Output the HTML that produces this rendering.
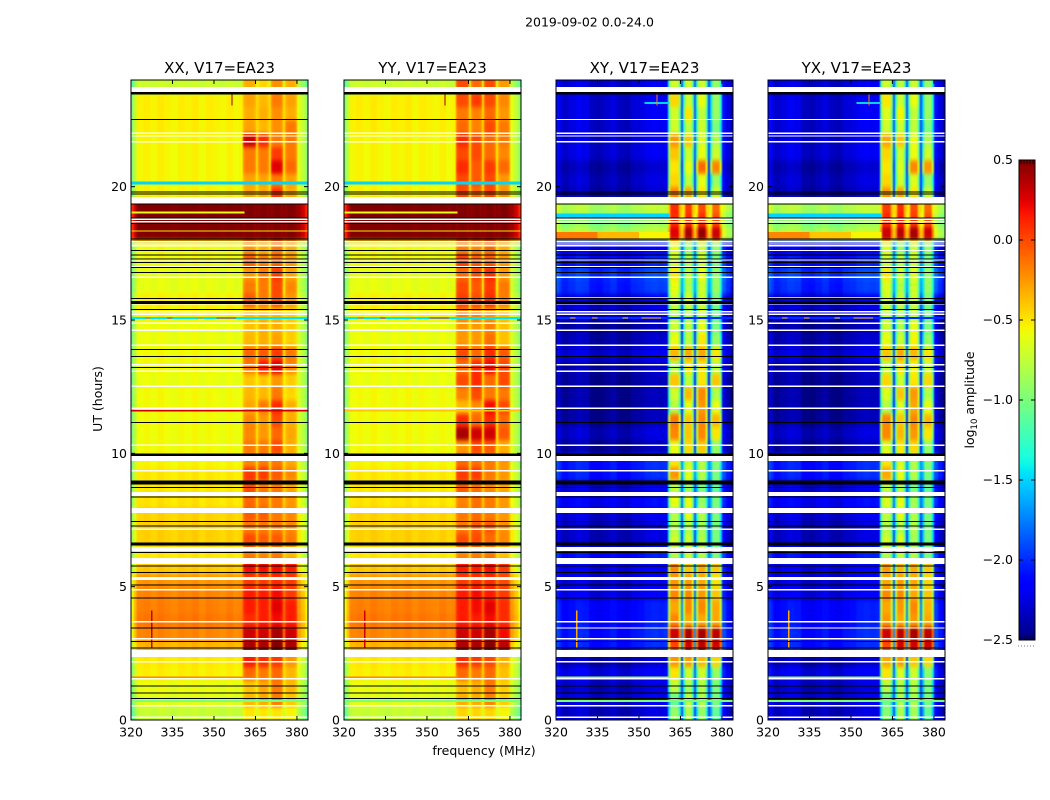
<!DOCTYPE html>
<html>
<head>
<meta charset="utf-8">
<title>2019-09-02 spectrogram</title>
<style>
html,body{margin:0;padding:0;background:#fff;}
svg{display:block;}
text{font-family:"DejaVu Sans","Liberation Sans",sans-serif;fill:#000;}
</style>
</head>
<body>
<svg id="figure" width="1050" height="800" viewBox="0 0 1050 800" xmlns="http://www.w3.org/2000/svg">
  <defs>
    <filter id="soften" x="-5%" y="-5%" width="110%" height="110%" color-interpolation-filters="sRGB">
      <feGaussianBlur stdDeviation="0.7 2.2"/>
    </filter>
  </defs>
  <text x="589.5" y="26.5" font-size="12.5" text-anchor="middle">2019-09-02 0.0-24.0</text>
  <text x="484" y="755" font-size="12.5" text-anchor="middle">frequency (MHz)</text>
  <text x="0" y="0" font-size="12.5" text-anchor="middle" transform="translate(102,399) rotate(-90)">UT (hours)</text>
  <text x="0" y="0" font-size="12.5" text-anchor="middle" transform="translate(974,400) rotate(-90)">log<tspan font-size="8.5" dy="3">10</tspan><tspan dy="-3"> amplitude</tspan></text>
</svg>
<script>
// Categories
const panelTitles = ['XX, V17=EA23', 'YY, V17=EA23', 'XY, V17=EA23', 'YX, V17=EA23'];
const freqTicks = [320, 335, 350, 365, 380];
const hourTicks = [0, 5, 10, 15, 20];
const colorbarTicks = [0.5, 0, -0.5, -1, -1.5, -2, -2.5];
const colorbarLabels = ['0.5', '0.0', '\u22120.5', '\u22121.0', '\u22121.5', '\u22122.0', '\u22122.5'];

// Frequency bin edges in MHz
const freqEdges = [320,321,322,324.5,327,329.5,332,334.5,337,339.5,342,344.5,347,349.5,352,354.5,357,359,360.5,361.3,364.4,365.2,365.9,366.7,369.1,369.9,370.6,371.4,374.1,374.9,375.7,376.5,379.2,380,381.5,383,384];
// Which value in a row each frequency bin reads: 0 continuum, 1-4 subbands, 5 subband gap
const binSource = [0,0,0,0,0,0,0,0,0,0,0,0,0,0,0,0,0,0,1,1,1,5,2,2,2,5,3,3,3,5,4,4,4,0,0,0];
// Offsets in log10 amplitude per frequency bin
const binOffsetParallel = [-0.4,-0.18,0,0.02,-0.01,0.03,0,-0.02,0.02,0,0.03,-0.02,0.02,0,-0.02,0.02,-0.02,0,-0.05,0,-0.05,0.06,-0.05,0,-0.05,0.06,-0.05,0,-0.05,0.06,-0.05,0,-0.05,-0.08,-0.2,-0.38];
const binOffsetCross = [0.2,0.1,0,0.05,0.1,0.08,-0.03,-0.05,0,0.05,-0.03,-0.05,0.03,0.05,0.1,0.12,0.1,0.12,-0.55,0,-0.45,0.4,-0.55,0,-0.45,0.4,-0.55,0,-0.45,0.4,-0.55,0,-0.45,0.2,0.05,-0.05];

// Half-hour rows from 0 UT upward: [continuum, subband1, subband2, subband3, subband4]
const valuesXX = [
[-0.74,-0.5,-0.5,-0.5,-0.55],[-0.64,-0.35,-0.3,-0.15,-0.4],[-0.6,-0.4,-0.3,-0.15,-0.35],[-0.54,-0.1,-0.15,-0.1,-0.35],
[-0.52,0.15,0.1,0.05,-0.25],[-0.35,0.4,0.4,0.5,0.4],[-0.2,0.3,0.3,0.4,0.3],[-0.15,0.1,0.15,0.2,0.15],
[-0.18,0.15,0.15,0.25,0.15],[-0.2,0.15,0.15,0.2,0.05],[-0.25,0.05,0.05,0.1,0.05],[-0.42,0.2,0.2,0.2,0.15],
[-0.52,-0.15,-0.2,-0.15,-0.35],[-0.44,0,-0.05,-0.05,-0.15],[-0.44,-0.15,-0.15,-0.15,-0.2],[-0.45,-0.05,-0.05,-0.15,-0.2],
[-0.5,-0.1,-0.15,-0.15,-0.25],[-0.52,0,-0.15,-0.15,-0.3],[-0.52,0.05,0.05,-0.05,-0.2],[-0.56,-0.2,-0.15,-0.15,-0.3],
[-0.58,-0.15,-0.15,0,-0.32],[-0.58,-0.2,-0.25,-0.1,-0.3],[-0.58,-0.2,-0.25,0,-0.32],[-0.58,-0.3,-0.15,0.1,-0.32],
[-0.58,-0.35,-0.35,-0.15,-0.45],[-0.6,-0.4,-0.4,-0.25,-0.42],[-0.58,-0.15,0.15,0.25,-0.2],[-0.58,-0.1,-0.05,0.05,-0.15],
[-0.6,-0.35,-0.32,-0.28,-0.42],[-0.6,-0.38,-0.32,-0.32,-0.42],[-0.55,-0.38,-0.35,-0.35,-0.42],[-0.54,-0.05,-0.15,0,-0.25],
[-0.62,-0.15,-0.15,0,-0.2],[-0.62,-0.25,-0.15,0.05,-0.28],[-0.58,-0.05,-0.15,-0.1,-0.25],[-0.58,-0.25,-0.32,-0.15,-0.32],
[0.5,0.5,0.5,0.5,0.5],[0.5,0.5,0.5,0.5,0.5],[0.5,0.5,0.5,0.5,0.5],[-0.56,-0.32,-0.32,0.05,-0.32],
[-0.56,-0.28,-0.28,-0.15,-0.28],[-0.56,-0.15,-0.15,0.25,-0.1],[-0.56,-0.15,-0.15,0.05,-0.15],[-0.56,0.3,0.1,-0.15,-0.15],
[-0.54,-0.28,-0.35,-0.22,-0.15],[-0.54,-0.32,-0.32,-0.22,-0.32],[-0.54,-0.28,-0.35,-0.15,-0.28],[-0.72,-0.32,-0.45,-0.22,-0.32]
];
const valuesYY = [
[-0.74,-0.45,-0.45,-0.45,-0.55],[-0.64,-0.32,-0.3,-0.18,-0.42],[-0.6,-0.38,-0.32,-0.15,-0.42],[-0.54,-0.1,-0.15,-0.1,-0.38],
[-0.52,0.1,0.05,0,-0.32],[-0.35,0.4,0.4,0.5,0.35],[-0.2,0.3,0.3,0.4,0.2],[-0.15,0.15,0.15,0.2,0.1],
[-0.18,0.15,0.2,0.25,0.1],[-0.2,0.15,0.2,0.15,0.05],[-0.25,0.05,0.1,0.1,0],[-0.42,0.15,0.15,0.2,0.05],
[-0.52,-0.2,-0.15,-0.15,-0.38],[-0.44,0,0,-0.1,-0.2],[-0.44,-0.15,-0.05,-0.05,-0.22],[-0.45,-0.15,-0.1,-0.15,-0.25],
[-0.5,-0.18,-0.12,-0.15,-0.25],[-0.52,-0.05,-0.12,-0.2,-0.3],[-0.52,0.05,0.05,-0.15,-0.25],[-0.56,-0.1,-0.12,-0.15,-0.25],
[-0.58,-0.25,0,-0.05,-0.32],[-0.58,0.4,0.3,0.3,-0.05],[-0.58,0.1,-0.1,0.1,-0.1],[-0.58,-0.35,-0.2,0.2,0],
[-0.58,-0.18,0,-0.15,-0.15],[-0.6,0,0.1,-0.1,0],[-0.58,-0.12,0.1,0.2,0],[-0.58,0,-0.1,0.1,-0.05],
[-0.6,-0.25,-0.25,-0.12,-0.38],[-0.6,-0.25,-0.25,-0.18,-0.38],[-0.55,-0.18,-0.18,-0.25,-0.38],[-0.54,0.05,0,0.1,-0.15],
[-0.62,0,-0.05,0.05,-0.15],[-0.62,-0.1,0,0.1,-0.25],[-0.58,0.05,-0.05,-0.05,-0.25],[-0.58,-0.18,-0.2,-0.1,-0.32],
[0.5,0.5,0.5,0.5,0.5],[0.5,0.5,0.5,0.5,0.5],[0.5,0.5,0.5,0.5,0.5],[-0.56,0,-0.1,0,-0.25],
[-0.56,0,-0.05,0,-0.25],[-0.56,0.1,-0.05,0.05,-0.1],[-0.56,0,0,-0.1,-0.2],[-0.56,0.1,0,-0.1,-0.15],
[-0.54,-0.1,-0.18,0,-0.15],[-0.54,-0.15,-0.18,-0.1,-0.25],[-0.54,0,0.05,0,-0.2],[-0.72,0,-0.1,0,-0.25]
];
const valuesXY = [
[-2.35,-0.9,-0.8,-0.9,-1.1],[-2.3,-1.1,-0.75,-0.8,-1],[-2.35,-0.75,-0.85,-0.8,-1],[-2.25,-0.5,-0.7,-0.7,-0.9],
[-2.4,-0.25,-0.25,-0.35,-0.45],[-2.1,0,0.3,0.35,0.3],[-2.1,0.3,0.4,0.4,0.35],[-2.15,-0.2,-0.3,-0.3,-0.3],
[-2.15,-0.3,-0.2,-0.2,-0.3],[-2.25,-0.2,-0.2,-0.25,-0.4],[-2.3,-0.25,-0.25,-0.3,-0.5],[-2.25,-0.2,-0.4,-0.3,-0.4],
[-2.15,-0.8,-0.7,-0.8,-1],[-2.35,-0.7,-0.7,-0.8,-1],[-2.35,-0.8,-0.8,-0.85,-1],[-2.3,-0.8,-0.6,-0.8,-1],
[-2.2,-0.6,-0.6,-0.9,-1],[-2.3,-0.75,-0.85,-1,-1.1],[-2.1,-0.25,-0.6,-0.8,-1],[-2.1,-0.5,-0.7,-0.8,-0.95],
[-2.45,-0.6,-0.45,-0.4,-0.9],[-2.35,-0.2,-0.4,-0.2,-0.5],[-2.45,-0.15,-0.4,-0.2,-0.35],[-2.45,-0.8,-0.6,-0.25,-0.6],
[-2.45,-0.7,-0.35,-0.2,-0.8],[-2.45,-0.4,-0.75,-0.5,-0.4],[-2.4,-0.8,-0.5,-0.5,-0.75],[-2.3,-0.35,-0.3,-0.3,-0.5],
[-2.4,-0.6,-0.75,-0.5,-0.9],[-2.45,-0.7,-0.75,-0.6,-1],[-2.35,-0.8,-0.8,-0.7,-1.05],[-2.3,-0.7,-0.65,-0.7,-1],
[-2.05,-0.6,-0.8,-0.7,-0.9],[-2,-0.5,-0.75,-0.6,-0.9],[-2.15,-0.7,-0.8,-0.7,-1],[-2.25,-0.6,-0.9,-0.7,-0.9],
[-0.85,0.25,0.4,0.45,0.3],[-1,0.1,0.1,0.1,0],[-0.85,0.1,0.05,0,-0.1],[-2.4,-0.2,-0.3,-0.5,-0.7],
[-2.35,-0.45,-0.75,-0.6,-0.9],[-2.4,-0.5,-0.6,-0.1,-0.2],[-2.3,-0.4,-0.7,-0.6,-0.7],[-2.3,-0.25,-0.4,-0.65,-0.8],
[-2.3,-0.7,-0.75,-0.7,-1],[-2.3,-0.7,-0.5,-0.75,-0.9],[-2.3,-0.45,-0.7,-0.6,-0.9],[-2.3,-0.7,-0.7,-0.7,-0.9]
];
const valuesYX = [
[-2.35,-0.95,-0.8,-0.85,-1.1],[-2.3,-1.05,-0.8,-0.8,-1],[-2.35,-0.8,-0.8,-0.8,-1],[-2.25,-0.5,-0.65,-0.7,-0.95],
[-2.4,-0.3,-0.25,-0.4,-0.45],[-2.1,0,0.3,0.3,0.3],[-2.1,0.3,0.35,0.4,0.35],[-2.15,-0.25,-0.3,-0.25,-0.3],
[-2.15,-0.3,-0.25,-0.2,-0.35],[-2.25,-0.2,-0.2,-0.3,-0.4],[-2.3,-0.3,-0.25,-0.3,-0.45],[-2.25,-0.25,-0.35,-0.3,-0.4],
[-2.15,-0.8,-0.75,-0.8,-1],[-2.35,-0.7,-0.65,-0.85,-1],[-2.35,-0.8,-0.8,-0.8,-1],[-2.3,-0.75,-0.6,-0.8,-1],
[-2.2,-0.65,-0.6,-0.85,-1],[-2.3,-0.75,-0.8,-1,-1.1],[-2.1,-0.3,-0.6,-0.8,-1],[-2.1,-0.5,-0.65,-0.8,-0.95],
[-2.45,-0.65,-0.5,-0.45,-0.9],[-2.35,-0.2,-0.35,-0.25,-0.5],[-2.45,-0.2,-0.4,-0.2,-0.35],[-2.45,-0.8,-0.65,-0.3,-0.6],
[-2.45,-0.65,-0.4,-0.25,-0.8],[-2.45,-0.45,-0.7,-0.5,-0.45],[-2.4,-0.75,-0.5,-0.55,-0.7],[-2.3,-0.4,-0.3,-0.35,-0.5],
[-2.4,-0.6,-0.7,-0.55,-0.9],[-2.45,-0.7,-0.8,-0.6,-1],[-2.35,-0.75,-0.8,-0.75,-1.05],[-2.3,-0.7,-0.7,-0.7,-1],
[-2.05,-0.65,-0.8,-0.7,-0.9],[-2,-0.5,-0.7,-0.65,-0.9],[-2.15,-0.7,-0.75,-0.7,-1],[-2.25,-0.65,-0.9,-0.7,-0.9],
[-0.85,0.3,0.35,0.4,0.3],[-1,0.1,0.15,0.05,0],[-0.85,0.05,0.1,0,-0.1],[-2.4,-0.25,-0.3,-0.5,-0.7],
[-2.35,-0.45,-0.7,-0.65,-0.9],[-2.4,-0.5,-0.65,-0.2,-0.25],[-2.3,-0.45,-0.7,-0.6,-0.7],[-2.3,-0.3,-0.4,-0.6,-0.8],
[-2.3,-0.7,-0.7,-0.75,-1],[-2.3,-0.65,-0.55,-0.75,-0.9],[-2.3,-0.5,-0.7,-0.6,-0.9],[-2.3,-0.7,-0.75,-0.7,-0.9]
];

// Local features: [hourLow, hourHigh, freqLow, freqHigh, XX, YY, XY, YX]; null means absent in that panel
const features = [
[20.08,20.2,320,384,-1.5,-1.5,null,null],
[15.03,15.11,320,384,-1.45,-1.45,-2,-2],
[15.05,15.09,325,327,-0.1,-0.1,-0.3,-0.3],
[15.05,15.09,333,335,0.1,0.1,-0.3,-0.3],
[15.05,15.09,344,346,-0.2,-0.2,-0.4,-0.4],
[15.05,15.09,351,358,0.1,0.1,-0.3,-0.3],
[0.68,0.75,320,384,-1,-1,-1,-1],
[1.55,1.63,320,361,-0.2,-0.2,-0.9,-0.9],
[11.56,11.62,320,384,0.3,-0.4,null,null],
[19.0,19.07,320,361,-0.6,-0.6,null,null],
[18.31,18.36,320,384,-0.5,-0.5,null,null],
[18.75,19,320,361,null,null,-1.5,-1.5],
[18.04,18.3,320,335,null,null,-0.15,-0.2],
[18.04,18.3,335,350,null,null,-0.35,-0.4],
[18.04,18.3,350,361,null,null,-0.55,-0.55],
[15.8,15.86,320,361,null,null,-1,-1],
[2.7,4.1,327.3,327.8,0.3,0.3,-0.3,-0.3],
[23.1,23.18,352,361,null,null,-1.5,-1.5],
[23.05,23.45,356.3,356.7,0.45,0.45,-0.2,-0.2]
];

// Flagged time stamps in hours
const blackHours = [19.8,19.72,19.35,18.82,18.62,18.04,17.44,17.29,17.15,16.96,16.79,15.8,15.4,13.9,13.64,13.22,11.16,8.72,8.36,7.45,7.27,6.29,5.78,5.53,5.06,4.58,2.94,2.7,1.28,1.01,0.8];
const blackHoursParallelOnly = [22.52,17.6,3.45];
const blackBands = [[23.45,23.55],[15.6,15.72],[9.9,10],[8.84,8.98],[6.54,6.66]];
const whiteHours = [22.01,21.9,21.68,18.78,18.69,17.93,17.85,17.78,17.25,17,16.61,15.6,15.31,15.21,14.88,14.61,14.05,13.32,13.08,12.51,11.69,10.3,9.34,7.16,4.88,3.68,3.04,2.19,1.54,0.53,0.11];
const whiteBands = [[23.55,23.74],[19.35,19.61],[9.71,9.9],[8.4,8.55],[7.76,7.95],[6.34,6.49],[5.85,6.08],[5.25,5.36],[2.36,2.63]];

const panelValues = [valuesXX, valuesYY, valuesXY, valuesYX];
const panelFamily = ['parallel', 'parallel', 'cross', 'cross'];
const panelKeys = ['xx', 'yy', 'xy', 'yx'];

// Layout
const SVG_NS = 'http://www.w3.org/2000/svg';
const svg = document.getElementById('figure');
const panelLeft = [131, 344, 556, 768];
const panelWidth = 177;
const plotTop = 80;
const plotBottom = 720;
const VMIN = -2.5;
const VMAX = 0.5;
const HOUR_MAX = 24;
const FREQ_MIN = 320;
const FREQ_MAX = 384;
const ROW_HOURS = 0.5;

function xScale(panel, f) { return panelLeft[panel] + (f - FREQ_MIN) / (FREQ_MAX - FREQ_MIN) * panelWidth; }
function yScale(h) { return plotBottom - h / HOUR_MAX * (plotBottom - plotTop); }

function lerpStops(t, stops) {
  for (let i = 1; i < stops.length; i++) {
    if (t <= stops[i][0]) {
      const a = stops[i - 1], b = stops[i];
      return a[1] + (b[1] - a[1]) * (t - a[0]) / (b[0] - a[0]);
    }
  }
  return stops[stops.length - 1][1];
}
const jetR = [[0,0],[0.35,0],[0.66,1],[0.89,1],[1,0.5]];
const jetG = [[0,0],[0.125,0],[0.375,1],[0.64,1],[0.91,0],[1,0]];
const jetB = [[0,0.5],[0.11,1],[0.34,1],[0.65,0],[1,0]];
function jet(v) {
  const t = Math.max(0, Math.min(1, (v - VMIN) / (VMAX - VMIN)));
  const c = s => Math.round(255 * lerpStops(t, s));
  return 'rgb(' + c(jetR) + ',' + c(jetG) + ',' + c(jetB) + ')';
}

function mk(tag, parent, attrs) {
  const el = document.createElementNS(SVG_NS, tag);
  for (const k in attrs) el.setAttribute(k, attrs[k]);
  parent.appendChild(el);
  return el;
}

panelTitles.forEach((title, p) => {
  const group = mk('g', svg, {});
  
  

  const clipId = 'clip-' + p;
  const defs = mk('defs', group, {});
  const clip = mk('clipPath', defs, { id: clipId });
  mk('rect', clip, { x: panelLeft[p], y: plotTop, width: panelWidth, height: plotBottom - plotTop });

  const clipped = mk('g', group, { 'clip-path': 'url(#' + clipId + ')' });
  const heat = mk('g', clipped, { filter: 'url(#soften)' });
  
  
  const overlay = mk('g', clipped, { 'shape-rendering': 'crispEdges' });
  
  

  const offsets = panelFamily[p] === 'parallel' ? binOffsetParallel : binOffsetCross;
  const rows = panelValues[p];
  const lastRow = rows.length - 1;
  const lastBin = freqEdges.length - 2;
  rows.forEach((row, r) => {
    // outer rows and bins bleed past the clip so softening does not fade the plot edges
    const y0 = yScale((r + 1) * ROW_HOURS) - (r === lastRow ? 12 : 0);
    const y1 = yScale(r * ROW_HOURS) + (r === 0 ? 12 : 0);
    for (let b = 0; b <= lastBin; b++) {
      const src = binSource[b];
      const base = src === 5 ? row[0] : row[src];
      const x0 = xScale(p, freqEdges[b]) - (b === 0 ? 8 : 0);
      const x1 = xScale(p, freqEdges[b + 1]) + (b === lastBin ? 8 : 0);
      const cell = mk('rect', heat, { x: x0.toFixed(2), y: y0.toFixed(2), width: (x1 - x0 + 0.4).toFixed(2), height: (y1 - y0 + 0.4).toFixed(2), fill: jet(base + offsets[b]) });
      
      
    }
  });

  features.forEach(ft => {
    const v = ft[4 + p];
    if (v === null) return;
    const yA = yScale(ft[1]), yB = yScale(ft[0]);
    const xA = xScale(p, ft[2]), xB = xScale(p, ft[3]);
    const mark = mk('rect', overlay, { x: xA, y: yA, width: Math.max(1, xB - xA), height: Math.max(1, yB - yA), fill: jet(v) });
    
    
  });

  function band(lo, hi, color, name) {
    const yA = yScale(hi), yB = yScale(lo);
    const s = mk('rect', overlay, { x: panelLeft[p], y: yA, width: panelWidth, height: Math.max(1, yB - yA), fill: color });
    
    
  }
  const thinWhite = 0.028;
  const thinBlack = 0.019;
  whiteHours.forEach(h => band(h - thinWhite, h + thinWhite, '#fff', 'flagged-time-white'));
  whiteBands.forEach(bd => band(bd[0], bd[1], '#fff', 'flagged-band-white'));
  blackHours.forEach(h => band(h - thinBlack, h + thinBlack, '#000', 'flagged-time-black'));
  blackBands.forEach(bd => band(bd[0], bd[1], '#000', 'flagged-band-black'));
  blackHoursParallelOnly.forEach(h => {
    band(h - thinBlack, h + thinBlack, panelFamily[p] === 'parallel' ? '#000' : '#fff', 'flagged-time-mixed');
  });

  const frame = mk('rect', group, { x: panelLeft[p], y: plotTop, width: panelWidth, height: plotBottom - plotTop, fill: 'none', stroke: '#000', 'stroke-width': 1 });
  
  

  const t = mk('text', group, { x: panelLeft[p] + panelWidth / 2, y: 73, 'font-size': 15, 'text-anchor': 'middle' });
  t.textContent = title;
  
  

  freqTicks.forEach(f => {
    const x = xScale(p, f);
    const tb = mk('line', group, { x1: x, x2: x, y1: plotBottom, y2: plotBottom - 4, stroke: '#000', 'stroke-width': 1 });
    
    
    const tt = mk('line', group, { x1: x, x2: x, y1: plotTop, y2: plotTop + 4, stroke: '#000', 'stroke-width': 1 });
    
    
    const lb = mk('text', group, { x: x, y: 736.5, 'font-size': 12.5, 'text-anchor': 'middle' });
    lb.textContent = f;
    
    
  });
  hourTicks.forEach(h => {
    const y = yScale(h);
    const tl = mk('line', group, { x1: panelLeft[p], x2: panelLeft[p] + 4, y1: y, y2: y, stroke: '#000', 'stroke-width': 1 });
    
    
    const tr = mk('line', group, { x1: panelLeft[p] + panelWidth, x2: panelLeft[p] + panelWidth - 4, y1: y, y2: y, stroke: '#000', 'stroke-width': 1 });
    
    
    const lb = mk('text', group, { x: panelLeft[p] - 4, y: y + 4.5, 'font-size': 12.5, 'text-anchor': 'end' });
    lb.textContent = h;
    
    
  });
});

// Colorbar
const cbLeft = 1019, cbWidth = 16, cbTop = 160, cbBottom = 640;
function cbScale(v) { return cbBottom - (v - VMIN) / (VMAX - VMIN) * (cbBottom - cbTop); }
const cb = mk('g', svg, {});


const cbDefs = mk('defs', cb, {});
const grad = mk('linearGradient', cbDefs, { id: 'jet-grad', x1: 0, y1: 0, x2: 0, y2: 1 });
for (let i = 0; i <= 60; i++) {
  mk('stop', grad, { offset: (i / 60).toFixed(4), 'stop-color': jet(VMAX - i / 60 * (VMAX - VMIN)) });
}
const cbRect = mk('rect', cb, { x: cbLeft, y: cbTop, width: cbWidth, height: cbBottom - cbTop, fill: 'url(#jet-grad)', stroke: '#000', 'stroke-width': 1 });


colorbarTicks.forEach((v, i) => {
  const y = cbScale(v);
  [[cbLeft, cbLeft + 4], [cbLeft + cbWidth, cbLeft + cbWidth - 4]].forEach(seg => {
    const tk = mk('line', cb, { x1: seg[0], x2: seg[1], y1: y, y2: y, stroke: '#000', 'stroke-width': 1 });
    
    
  });
  const lb = mk('text', cb, { x: 1013, y: y + 4, 'font-size': 12.5, 'text-anchor': 'end' });
  lb.textContent = colorbarLabels[i];
  
  
});
const minorEnds = [cbTop, cbBottom - 4];
minorEnds.forEach(y0 => {
  for (let x = cbLeft + 2; x < cbLeft + cbWidth - 1; x += 3) {
    const m = mk('line', cb, { x1: x, x2: x, y1: y0, y2: y0 + 4, stroke: '#000', 'stroke-width': 0.8 });
    
    
  }
});
const dots = mk('line', cb, { x1: 1018, x2: 1035, y1: 646, y2: 646, stroke: '#777', 'stroke-width': 1, 'stroke-dasharray': '1 2' });


</script>
</body>
</html>
